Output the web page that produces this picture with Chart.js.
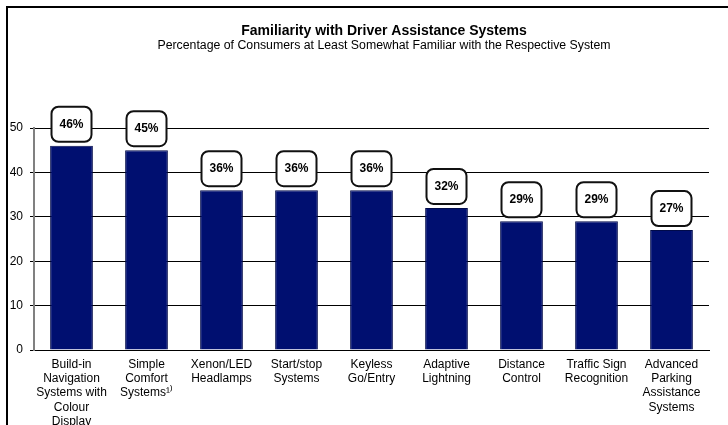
<!DOCTYPE html>
<html>
<head>
<meta charset="utf-8">
<script src="https://cdn.jsdelivr.net/npm/chart.js@4.4.1/dist/chart.umd.min.js"></script>
<style>
    body { margin: 0; background: #fff; }
    .wrap { width: 728px; height: 425px; position: relative; }
</style>
</head>
<body>
<div class="wrap"><canvas id="familiarityChart"></canvas></div>
<script>
const categories = [
    ['Build-in', 'Navigation', 'Systems with', 'Colour', 'Display'],
    ['Simple', 'Comfort', 'Systems\u00b9\u207e'],
    ['Xenon/LED', 'Headlamps'],
    ['Start/stop', 'Systems'],
    ['Keyless', 'Go/Entry'],
    ['Adaptive', 'Lightning'],
    ['Distance', 'Control'],
    ['Traffic Sign', 'Recognition'],
    ['Advanced', 'Parking', 'Assistance', 'Systems']
];
const familiarity = [46, 45, 36, 36, 36, 32, 29, 29, 27];
const yTicks = [0, 10, 20, 30, 40, 50];

const titleText = 'Familiarity with Driver Assistance Systems';
const subtitleText = 'Percentage of Consumers at Least Somewhat Familiar with the Respective System';

const FONT = '"Liberation Sans", Arial, sans-serif';

// frame + titles
const framePlugin = {
    id: 'frame',
    beforeDraw: (chart) => {
        const ctx = chart.ctx;
        ctx.save();
        ctx.strokeStyle = '#000';
        ctx.lineWidth = 2;
        ctx.beginPath();
        ctx.moveTo(7, 425);
        ctx.lineTo(7, 7);
        ctx.lineTo(728, 7);
        ctx.stroke();

        ctx.fillStyle = '#000';
        ctx.textAlign = 'center';
        ctx.textBaseline = 'middle';
        ctx.font = 'bold 14px ' + FONT;
        ctx.fillText(titleText, 384, 31);
        ctx.font = '12.3px ' + FONT;
        ctx.fillText(subtitleText, 384, 46);
        ctx.restore();
    }
};

// rounded value boxes above the bars
const valueBoxPlugin = {
    id: 'valueBoxes',
    afterDatasetsDraw: (chart) => {
        const ctx = chart.ctx;
        const meta = chart.getDatasetMeta(0);
        ctx.save();
        meta.data.forEach((bar, i) => {
            const w = 40, h = 35;
            const x = bar.x - w / 2;
            const y = bar.y - 4 - h;
            ctx.beginPath();
            ctx.roundRect(x, y, w, h, 7);
            ctx.fillStyle = '#fff';
            ctx.fill();
            ctx.lineWidth = 2;
            ctx.strokeStyle = '#111';
            ctx.stroke();
            ctx.fillStyle = '#000';
            ctx.font = 'bold 12px ' + FONT;
            ctx.textAlign = 'center';
            ctx.textBaseline = 'middle';
            ctx.fillText(familiarity[i] + '%', bar.x, y + h / 2);
        });
        ctx.restore();
    }
};

const ctx = document.getElementById('familiarityChart');

new Chart(ctx, {
    type: 'bar',
    data: {
        labels: categories,
        datasets: [{
            label: 'Familiarity',
            data: familiarity,
            backgroundColor: '#000f70',
            borderColor: '#000a4a',
            borderWidth: 1,
            categoryPercentage: 1,
            barPercentage: 0.57
        }]
    },
    options: {
        responsive: true,
        maintainAspectRatio: false,
        animation: false,
        layout: {
            padding: { top: 128, right: 19, left: 0, bottom: 0 }
        },
        plugins: {
            legend: { display: false },
            tooltip: { enabled: false }
        },
        scales: {
            x: {
                grid: { display: false },
                border: { color: '#000', width: 1 },
                ticks: {
                    color: '#000',
                    font: { family: FONT, size: 12, lineHeight: 1.2 },
                    padding: -1,
                    maxRotation: 0,
                    autoSkip: false
                },
                afterFit: (scale) => { scale.height = 75; }
            },
            y: {
                min: 0,
                max: 50,
                afterBuildTicks: (scale) => {
                    scale.ticks = yTicks.map((v) => ({ value: v }));
                },
                grid: {
                    color: '#000',
                    lineWidth: 1,
                    tickLength: 4,
                    tickColor: '#000'
                },
                border: { color: '#808080', width: 2 },
                ticks: {
                    color: '#000',
                    font: { family: FONT, size: 12 },
                    padding: 7
                },
                afterFit: (scale) => { scale.width = 34; }
            }
        }
    },
    plugins: [framePlugin, valueBoxPlugin]
});
</script>
</body>
</html>
